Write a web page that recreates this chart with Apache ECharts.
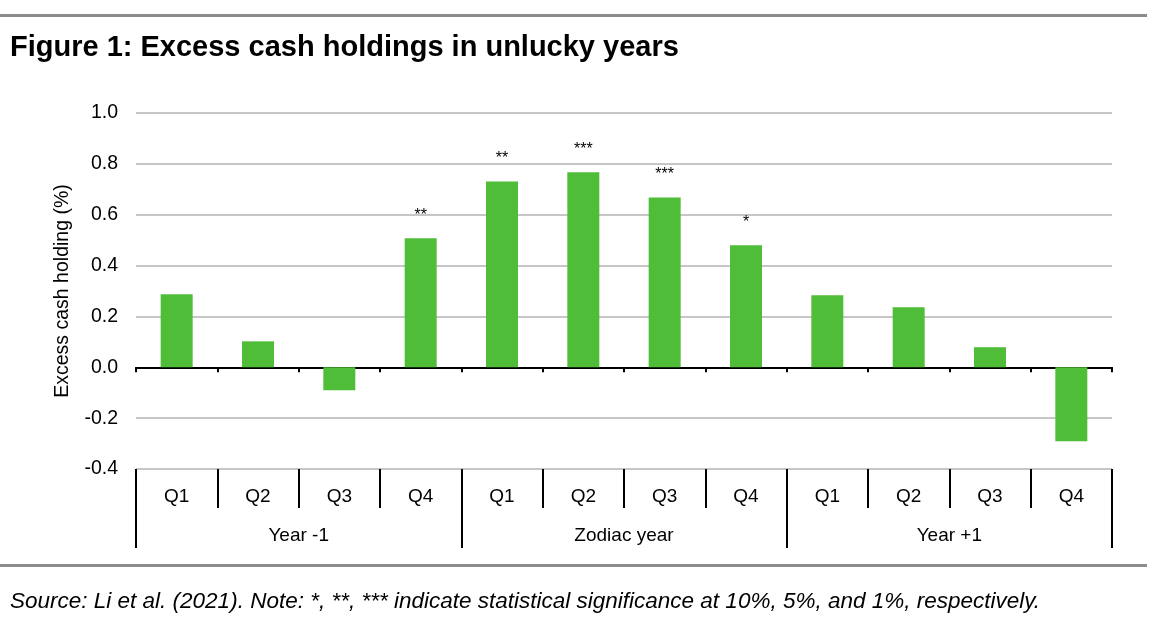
<!DOCTYPE html>
<html>
<head>
<meta charset="utf-8">
<script src="https://cdn.jsdelivr.net/npm/echarts@6/dist/echarts.min.js"></script>
<style>
html,body{margin:0;padding:0;background:#fff;}
#c{width:1152px;height:626px;}
</style>
</head>
<body>
<div id="c"></div>
<script>
var quarters = ['Q1','Q2','Q3','Q4','Q1','Q2','Q3','Q4','Q1','Q2','Q3','Q4'];
var years = ['Year -1','Zodiac year','Year +1'];
var values = [0.287, 0.102, -0.090, 0.507, 0.731, 0.767, 0.668, 0.480, 0.283, 0.236, 0.079, -0.291];
var stars = ['', '', '', '**', '**', '***', '***', '*', '', '', '', ''];
var yTicks = {min: -0.4, max: 1.0, interval: 0.2};

var chart = echarts.init(document.getElementById('c'), null, {renderer: 'canvas'});
var FONT = '"Liberation Sans", Arial, sans-serif';
var idx = quarters.map(function(q, i){ return i; });

chart.setOption({
  animation: false,
  textStyle: {fontFamily: FONT},
  title: [{
    text: 'Figure 1: Excess cash holdings in unlucky years',
    left: 5, top: 28,
    textStyle: {fontFamily: FONT, fontSize: 29, fontWeight: 'bold', color: '#000'}
  }, {
    text: 'Source: Li et al. (2021). Note: *, **, *** indicate statistical significance at 10%, 5%, and 1%, respectively.',
    left: 5, top: 585,
    textStyle: {fontFamily: FONT, fontSize: 22.5, fontStyle: 'italic', fontWeight: 'normal', color: '#000'}
  }],
  graphic: [
    {type: 'rect', shape: {x: 0, y: 14, width: 1147, height: 3}, style: {fill: '#8c8c8c'}},
    {type: 'rect', shape: {x: 0, y: 564, width: 1147, height: 3}, style: {fill: '#8c8c8c'}}
  ],
  grid: {left: 136, right: 40, top: 113, bottom: 157, containLabel: false},
  xAxis: [{
    type: 'category',
    data: idx,
    axisLine: {onZero: true, lineStyle: {color: '#000', width: 2}},
    axisTick: {show: true, length: 5, lineStyle: {color: '#000', width: 2}},
    axisLabel: {show: false},
    splitLine: {show: false}
  }, {
    type: 'category',
    data: quarters.map(function(q, i){ return {value: q + '_' + i}; }),
    position: 'bottom',
    axisLine: {show: false, onZero: false},
    axisTick: {show: true, length: 39, lineStyle: {color: '#000', width: 2}},
    axisLabel: {show: true, margin: 18, fontSize: 19, color: '#000', fontFamily: FONT,
      formatter: function(v){ return v.split('_')[0]; }},
    splitLine: {show: false}
  }, {
    type: 'category',
    data: years,
    position: 'bottom',
    axisLine: {show: false, onZero: false},
    axisTick: {show: true, length: 79, lineStyle: {color: '#000', width: 2}},
    axisLabel: {show: true, margin: 57, fontSize: 19, color: '#000', fontFamily: FONT},
    splitLine: {show: false}
  }],
  yAxis: {
    type: 'value',
    min: yTicks.min, max: yTicks.max, interval: yTicks.interval,
    name: 'Excess cash holding (%)',
    nameLocation: 'middle',
    nameGap: 63,
    nameTextStyle: {fontSize: 19.5, color: '#000', fontFamily: FONT},
    axisLine: {show: false},
    axisTick: {show: false},
    axisLabel: {fontSize: 19.5, color: '#000', margin: 18, fontFamily: FONT,
      formatter: function(v){ return v.toFixed(1); }},
    splitLine: {show: true, lineStyle: {color: '#b3b3b3', width: 1.5}}
  },
  series: [{
    type: 'bar',
    xAxisIndex: 0,
    data: values,
    barWidth: 32,
    itemStyle: {color: '#4fbd38'},
    label: {
      show: true, position: 'top', distance: 15,
      fontSize: 16, color: '#000', fontFamily: FONT,
      formatter: function(p){ return stars[p.dataIndex]; }
    }
  }]
});
</script>
</body>
</html>
